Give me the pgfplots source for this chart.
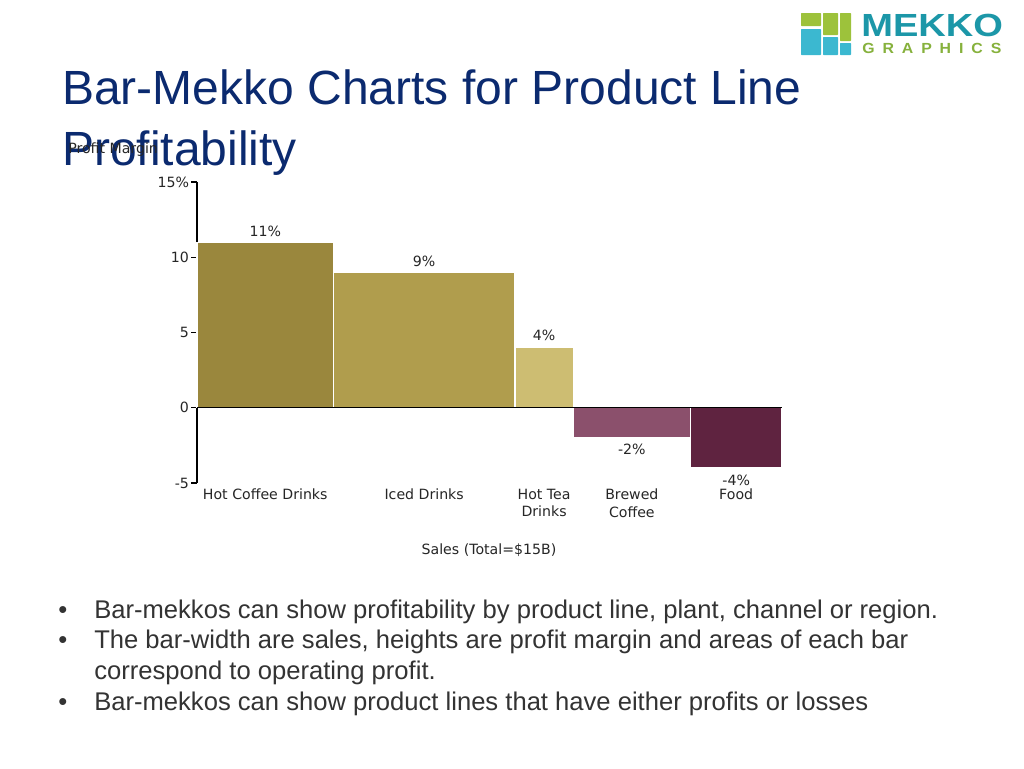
\documentclass[border=0pt]{standalone}
\usepackage{pgfplots}
\pgfplotsset{compat=1.18}
\usepackage{fontspec}
\setmainfont{DejaVu Sans}
\newfontfamily\arial{Liberation Sans}

\definecolor{hotcoffee}{HTML}{9A873D}
\definecolor{iced}{HTML}{B09D4D}
\definecolor{hottea}{HTML}{CDBD72}
\definecolor{brewed}{HTML}{8B506C}
\definecolor{food}{HTML}{5F2340}
\definecolor{titleblue}{HTML}{0B2A6F}
\definecolor{bodygray}{HTML}{333333}
\definecolor{logogreen}{HTML}{9DC23B}
\definecolor{logoblue}{HTML}{3BB8D0}
\definecolor{logoteal}{HTML}{1C97A8}
\definecolor{logotext}{HTML}{86B13C}

\begin{document}
\begin{tikzpicture}
% slide frame in pixel units (1px = 0.75pt)
\begin{scope}[x=0.75pt,y=-0.75pt]
  \path[fill=white] (0,0) rectangle (1024,768);
  % title
  \node[anchor=base west, inner sep=0, font=\arial\fontsize{36}{40}\selectfont, text=titleblue] at (62,104) {Bar-Mekko Charts for Product Line};
  \node[anchor=base west, inner sep=0, font=\arial\fontsize{36}{40}\selectfont, text=titleblue] at (62,165) {Profitability};
  % logo
  \fill[logogreen, rounded corners=0.5pt] (801,13) rectangle (821,26);
  \fill[logoblue, rounded corners=0.5pt] (801,29) rectangle (821,55);
  \fill[logogreen, rounded corners=0.5pt] (823,13) rectangle (838,35);
  \fill[logoblue, rounded corners=0.5pt] (823,37) rectangle (838,55);
  \fill[logogreen, rounded corners=0.5pt] (840,13) rectangle (851,41);
  \fill[logoblue, rounded corners=0.5pt] (840,43) rectangle (851,55);
  \node[anchor=base west, inner sep=0, xscale=1.19, font=\arial\bfseries\fontsize{24}{24}\selectfont, text=logoteal] at (861,36) {MEKKO};
  \node[anchor=base west, inner sep=0, xscale=1.08, font=\arial\bfseries\fontsize{11}{11}\selectfont, text=logotext] at (862,53) {G\,\,\,R\,\,\,A\,\,\,P\,\,\,H\,\,\,I\,\,\,C\,\,\,S};
  % bullets
  \begin{scope}[font=\arial\fontsize{19.2}{22}\selectfont, text=bodygray]
    \node[anchor=base west, inner sep=0] at (58,618) {•};
    \node[anchor=base west, inner sep=0] at (94,618) {Bar-mekkos can show profitability by product line, plant, channel or region.};
    \node[anchor=base west, inner sep=0] at (58,648) {•};
    \node[anchor=base west, inner sep=0] at (94,648) {The bar-width are sales, heights are profit margin and areas of each bar};
    \node[anchor=base west, inner sep=0] at (94,679) {correspond to operating profit.};
    \node[anchor=base west, inner sep=0] at (58,710) {•};
    \node[anchor=base west, inner sep=0] at (94,710) {Bar-mekkos can show product lines that have either profits or losses};
  \end{scope}
  % axis titles
  \node[font=\fontsize{10.6}{13}\selectfont, text=black!85] at (489,550) {Sales (Total=\$15B)};
  \node[anchor=west, inner sep=0, font=\fontsize{10.6}{13}\selectfont, text=black!85] at (68,150) {Profit Margin};
\end{scope}

\begin{axis}[
    at={(147.75pt,-362.25pt)}, anchor=south west,
    scale only axis, width=438.75pt, height=225.75pt,
    xmin=0, xmax=15, ymin=-5, ymax=15,
    axis x line=none, axis y line*=left,
    axis line style={black, line width=1pt, -},
    ytick={-5,0,5,10,15}, yticklabels={-5,0,5,10,15\%},
    tick align=outside, major tick length=4.5pt,
    tick style={black, line width=0.8pt},
    yticklabel style={font=\fontsize{10.6}{13}\selectfont, text=black!85, xshift=2pt},
    /pgf/number format/assume math mode=true,
    clip=false,
  ]
  \addplot[fill=hotcoffee, draw=white, line width=1pt] coordinates {(0,0) (0,11) (3.5,11) (3.5,0)} -- cycle;
  \addplot[fill=iced, draw=white, line width=1pt] coordinates {(3.5,0) (3.5,9) (8.15,9) (8.15,0)} -- cycle;
  \addplot[fill=hottea, draw=white, line width=1pt] coordinates {(8.15,0) (8.15,4) (9.65,4) (9.65,0)} -- cycle;
  \addplot[fill=brewed, draw=white, line width=1pt] coordinates {(9.65,0) (9.65,-2) (12.65,-2) (12.65,0)} -- cycle;
  \addplot[fill=food, draw=white, line width=1pt] coordinates {(12.65,0) (12.65,-4) (15,-4) (15,0)} -- cycle;
  \draw[black, line width=1pt] (axis cs:0,0) -- (axis cs:15,0);
  % value labels
  \begin{scope}[every node/.style={font=\fontsize{10.6}{13}\selectfont, text=black!85}]
    \node at (axis cs:1.75,11.75) {11\%};
    \node at (axis cs:5.825,9.75) {9\%};
    \node at (axis cs:8.9,4.78) {4\%};
    \node at (axis cs:11.15,-2.79) {-2\%};
    \node at (axis cs:13.825,-4.84) {-4\%};
    \node[anchor=north, align=center, inner sep=1pt] at (axis cs:1.75,-5.3) {Hot Coffee Drinks};
    \node[anchor=north, align=center, inner sep=1pt] at (axis cs:5.825,-5.3) {Iced Drinks};
    \node[anchor=north, align=center, inner sep=1pt] at (axis cs:8.9,-5.3) {Hot Tea\\Drinks};
    \node[anchor=north, align=center, inner sep=1pt] at (axis cs:11.15,-5.3) {Brewed\\Coffee};
    \node[anchor=north, align=center, inner sep=1pt] at (axis cs:13.825,-5.3) {Food};
  \end{scope}
\end{axis}
\end{tikzpicture}
\end{document}
